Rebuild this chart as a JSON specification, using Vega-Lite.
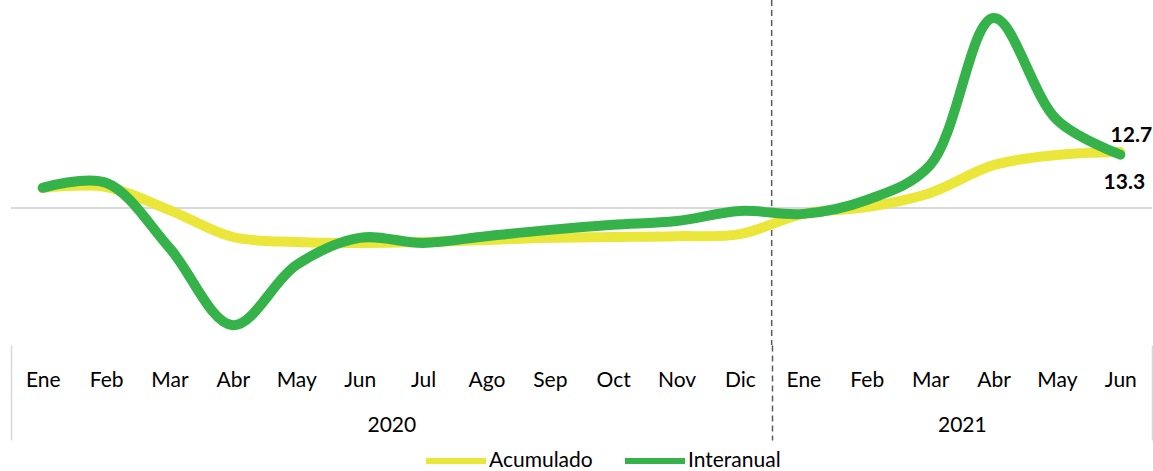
{
  "$schema": "https://vega.github.io/schema/vega-lite/v6.json",
  "width": 1141,
  "height": 345,
  "autosize": {"type": "none"},
  "padding": {"left": 11, "top": 0, "right": 1, "bottom": 126},
  "config": {"view": {"stroke": null}, "font": "Lato"},
  "datasets": {
    "series": [
      {"i": 0.5, "mes": "Ene", "serie": "Acumulado", "valor": 4.8},
      {"i": 1.5, "mes": "Feb", "serie": "Acumulado", "valor": 5.0},
      {"i": 2.5, "mes": "Mar", "serie": "Acumulado", "valor": -0.5},
      {"i": 3.5, "mes": "Abr", "serie": "Acumulado", "valor": -6.9},
      {"i": 4.5, "mes": "May", "serie": "Acumulado", "valor": -8.1},
      {"i": 5.5, "mes": "Jun", "serie": "Acumulado", "valor": -8.3},
      {"i": 6.5, "mes": "Jul", "serie": "Acumulado", "valor": -8.1},
      {"i": 7.5, "mes": "Ago", "serie": "Acumulado", "valor": -7.6},
      {"i": 8.5, "mes": "Sep", "serie": "Acumulado", "valor": -7.1},
      {"i": 9.5, "mes": "Oct", "serie": "Acumulado", "valor": -6.9},
      {"i": 10.5, "mes": "Nov", "serie": "Acumulado", "valor": -6.7},
      {"i": 11.5, "mes": "Dic", "serie": "Acumulado", "valor": -6.2},
      {"i": 12.5, "mes": "Ene", "serie": "Acumulado", "valor": -1.4},
      {"i": 13.5, "mes": "Feb", "serie": "Acumulado", "valor": 0.2},
      {"i": 14.5, "mes": "Mar", "serie": "Acumulado", "valor": 3.6},
      {"i": 15.5, "mes": "Abr", "serie": "Acumulado", "valor": 10.2},
      {"i": 16.5, "mes": "May", "serie": "Acumulado", "valor": 12.6},
      {"i": 17.5, "mes": "Jun", "serie": "Acumulado", "valor": 13.3},
      {"i": 0.5, "mes": "Ene", "serie": "Interanual", "valor": 4.8},
      {"i": 1.5, "mes": "Feb", "serie": "Interanual", "valor": 6.0},
      {"i": 2.5, "mes": "Mar", "serie": "Interanual", "valor": -9.5},
      {"i": 3.5, "mes": "Abr", "serie": "Interanual", "valor": -27.9},
      {"i": 4.5, "mes": "May", "serie": "Interanual", "valor": -13.6},
      {"i": 5.5, "mes": "Jun", "serie": "Interanual", "valor": -7.1},
      {"i": 6.5, "mes": "Jul", "serie": "Interanual", "valor": -8.3},
      {"i": 7.5, "mes": "Ago", "serie": "Interanual", "valor": -6.7},
      {"i": 8.5, "mes": "Sep", "serie": "Interanual", "valor": -5.2},
      {"i": 9.5, "mes": "Oct", "serie": "Interanual", "valor": -4.0},
      {"i": 10.5, "mes": "Nov", "serie": "Interanual", "valor": -3.1},
      {"i": 11.5, "mes": "Dic", "serie": "Interanual", "valor": -0.7},
      {"i": 12.5, "mes": "Ene", "serie": "Interanual", "valor": -1.4},
      {"i": 13.5, "mes": "Feb", "serie": "Interanual", "valor": 1.9},
      {"i": 14.5, "mes": "Mar", "serie": "Interanual", "valor": 10.2},
      {"i": 15.5, "mes": "Abr", "serie": "Interanual", "valor": 45.2},
      {"i": 16.5, "mes": "May", "serie": "Interanual", "valor": 21.0},
      {"i": 17.5, "mes": "Jun", "serie": "Interanual", "valor": 12.7}
    ]
  },
  "resolve": {"axis": {"x": "independent"}},
  "layer": [
    {
      "data": {"values": [{"v": 0}]},
      "mark": {"type": "rule", "color": "#d9d9d9", "strokeWidth": 2},
      "encoding": {
        "y": {"field": "v", "type": "quantitative", "scale": {"domain": [-32.6, 49.5], "nice": false, "zero": false}, "axis": null}
      }
    },
    {
      "data": {"values": [{"x": 12}]},
      "mark": {"type": "rule", "color": "#595959", "strokeWidth": 1.5, "strokeDash": [6, 4]},
      "encoding": {
        "x": {"field": "x", "type": "quantitative", "scale": {"domain": [0, 18], "nice": false, "zero": false},
          "axis": {"orient": "bottom", "values": [0, 12, 18], "labels": false, "domain": false, "title": null, "grid": false,
            "tickSize": 95, "tickWidth": 1.5,
            "tickColor": {"condition": {"test": "datum.value == 12", "value": "#595959"}, "value": "#d9d9d9"},
            "tickDash": {"condition": {"test": "datum.value == 12", "value": [6, 4]}, "value": []}}}
      }
    },
    {
      "data": {"values": [{"x": 6, "y": "2020"}, {"x": 15, "y": "2021"}]},
      "mark": {"type": "point", "opacity": 0},
      "encoding": {
        "x": {"field": "x", "type": "quantitative",
          "axis": {"orient": "bottom", "values": [6, 15], "labelExpr": "datum.value == 6 ? '2020' : '2021'", "ticks": false, "domain": false, "title": null, "grid": false,
            "labelFontSize": 21, "labelColor": "#000", "labelPadding": 69, "labelFont": "Lato"}}
      }
    },
    {
      "data": {"name": "series"},
      "mark": {"type": "line", "interpolate": "catmull-rom", "strokeWidth": 10, "strokeCap": "round", "strokeJoin": "round"},
      "encoding": {
        "x": {"field": "i", "type": "quantitative",
          "axis": {"orient": "bottom", "values": [0.5,1.5,2.5,3.5,4.5,5.5,6.5,7.5,8.5,9.5,10.5,11.5,12.5,13.5,14.5,15.5,16.5,17.5],
            "labelExpr": "['Ene','Feb','Mar','Abr','May','Jun','Jul','Ago','Sep','Oct','Nov','Dic','Ene','Feb','Mar','Abr','May','Jun'][floor(datum.value)]",
            "ticks": false, "domain": false, "title": null, "grid": false,
            "labelFontSize": 21, "labelColor": "#000", "labelPadding": 24, "labelFont": "Lato"}},
        "y": {"field": "valor", "type": "quantitative", "axis": null},
        "color": {"field": "serie", "type": "nominal",
          "scale": {"domain": ["Acumulado", "Interanual"], "range": ["#ebe63a", "#35b34a"]},
          "legend": {"orient": "none", "legendX": 412, "legendY": 428, "direction": "horizontal", "title": null, "symbolType": "stroke", "symbolSize": 3600, "symbolStrokeWidth": 6,
            "labelFontSize": 21, "labelColor": "#000", "labelFont": "Lato", "columnPadding": 20, "labelOffset": 0}},
        "order": {"field": "i", "type": "quantitative"}
      }
    },
    {
      "data": {"name": "series"},
      "transform": [{"filter": "datum.i == 17.5 && datum.serie == 'Interanual'"}],
      "mark": {"type": "text", "fontWeight": "bold", "fontSize": 21, "dx": 11, "dy": -19, "color": "#000", "font": "Lato"},
      "encoding": {
        "x": {"field": "i", "type": "quantitative", "axis": null},
        "y": {"field": "valor", "type": "quantitative", "axis": null},
        "text": {"field": "valor", "type": "quantitative", "format": ".1f"}
      }
    },
    {
      "data": {"name": "series"},
      "transform": [{"filter": "datum.i == 17.5 && datum.serie == 'Acumulado'"}],
      "mark": {"type": "text", "fontWeight": "bold", "fontSize": 21, "dx": 4, "dy": 31, "color": "#000", "font": "Lato"},
      "encoding": {
        "x": {"field": "i", "type": "quantitative", "axis": null},
        "y": {"field": "valor", "type": "quantitative", "axis": null},
        "text": {"field": "valor", "type": "quantitative", "format": ".1f"}
      }
    }
  ]
}
